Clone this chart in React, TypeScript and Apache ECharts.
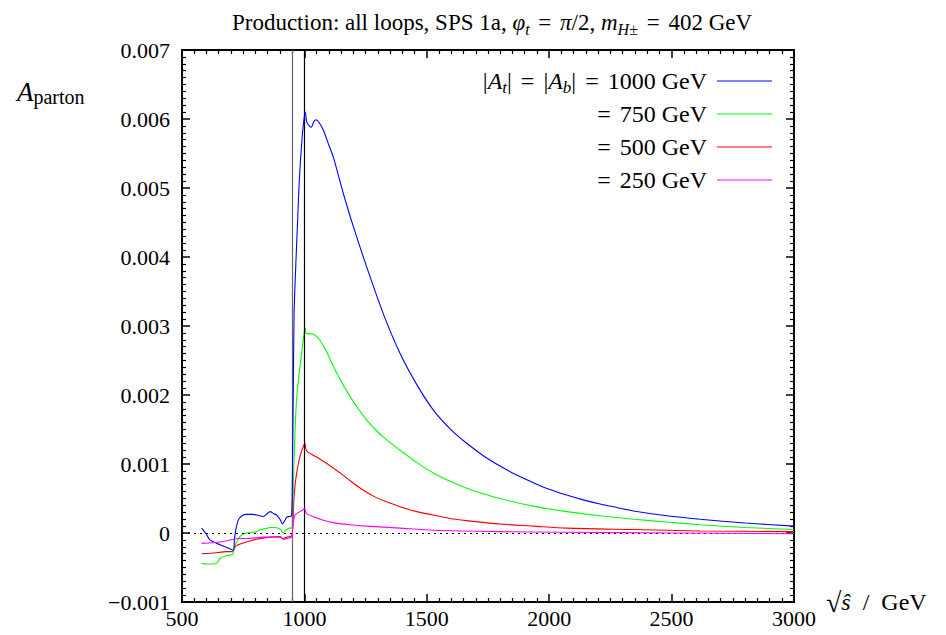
import React, { useEffect, useRef } from "react";
import * as echarts from "echarts";

// sqrt(s) in GeV, asymmetry in units of 1e-3
const blueX = [580, 600, 614, 655, 690, 710, 714, 720, 730, 745, 764, 790, 805, 832, 848, 860, 875, 887, 900, 911, 920, 928, 940, 948, 952, 955, 958, 965, 972, 979, 990, 1000, 1003, 1010, 1020, 1028, 1038, 1047, 1060, 1077, 1100, 1118, 1159, 1200, 1254, 1322, 1391, 1459, 1527, 1595, 1663, 1731, 1799, 1867, 1935, 2003, 2071, 2139, 2208, 2276, 2344, 2480, 2616, 2800, 3000];
const blueY = [0.07, -0.02, -0.10, -0.17, -0.22, -0.25, -0.10, 0.05, 0.19, 0.25, 0.27, 0.27, 0.26, 0.24, 0.28, 0.31, 0.28, 0.26, 0.20, 0.13, 0.18, 0.23, 0.24, 0.25, 1.2, 2.2, 3.2, 3.9, 4.5, 5.1, 5.7, 6.05, 6.1, 5.95, 5.9, 5.88, 5.96, 5.99, 5.95, 5.84, 5.62, 5.45, 4.92, 4.44, 3.86, 3.18, 2.60, 2.15, 1.78, 1.51, 1.30, 1.12, 0.97, 0.84, 0.73, 0.63, 0.55, 0.48, 0.42, 0.37, 0.32, 0.25, 0.20, 0.145, 0.10];

const greenX = [580, 600, 628, 645, 655, 680, 700, 708, 712, 718, 723, 735, 744, 764, 791, 805, 819, 840, 860, 880, 893, 905, 911, 918, 928, 940, 948, 952, 956, 962, 968, 975, 982, 992, 1000, 1002, 1008, 1020, 1036, 1050, 1064, 1090, 1118, 1150, 1186, 1220, 1254, 1290, 1322, 1391, 1459, 1527, 1595, 1663, 1731, 1799, 1935, 2071, 2208, 2344, 2480, 2616, 2800, 3000];
const greenY = [-0.44, -0.45, -0.45, -0.43, -0.37, -0.33, -0.32, -0.30, -0.22, -0.17, -0.13, -0.06, -0.03, 0.0, 0.01, 0.02, 0.05, 0.06, 0.08, 0.08, 0.07, 0.04, 0.0, 0.02, 0.05, 0.07, 0.07, 0.3, 0.9, 1.5, 1.93, 2.2, 2.41, 2.7, 2.93, 2.98, 2.89, 2.89, 2.88, 2.85, 2.79, 2.63, 2.42, 2.2, 1.98, 1.80, 1.64, 1.50, 1.39, 1.20, 1.02, 0.87, 0.75, 0.65, 0.57, 0.50, 0.39, 0.31, 0.25, 0.20, 0.16, 0.12, 0.08, 0.05];

const redX = [580, 628, 683, 700, 710, 714, 720, 737, 764, 805, 860, 900, 908, 914, 920, 928, 948, 953, 957, 962, 968, 975, 982, 992, 1000, 1002, 1006, 1012, 1040, 1064, 1090, 1118, 1150, 1186, 1220, 1254, 1290, 1322, 1391, 1459, 1527, 1595, 1663, 1799, 1935, 2071, 2344, 2616, 3000];
const redY = [-0.30, -0.29, -0.27, -0.27, -0.26, -0.22, -0.19, -0.16, -0.13, -0.09, -0.06, -0.05, -0.07, -0.09, -0.07, -0.06, -0.04, 0.15, 0.48, 0.70, 0.86, 1.0, 1.11, 1.22, 1.29, 1.30, 1.22, 1.18, 1.12, 1.07, 1.01, 0.94, 0.86, 0.76, 0.67, 0.59, 0.52, 0.47, 0.38, 0.31, 0.26, 0.21, 0.18, 0.13, 0.10, 0.07, 0.05, 0.03, 0.02];

const magentaX = [580, 655, 710, 730, 764, 832, 900, 914, 928, 948, 952, 957, 962, 972, 982, 992, 1002, 1006, 1012, 1036, 1064, 1118, 1186, 1254, 1391, 1527, 1800, 2071, 2500, 3000];
const magentaY = [-0.15, -0.13, -0.09, -0.08, -0.08, -0.06, -0.06, -0.09, -0.08, -0.06, 0.07, 0.20, 0.26, 0.29, 0.31, 0.33, 0.35, 0.30, 0.27, 0.24, 0.20, 0.15, 0.12, 0.10, 0.07, 0.04, 0.02, 0.01, 0.0, -0.01];

const thresholds = [952, 1000];
const legendLabels = ["1000 GeV", "750 GeV", "500 GeV", "250 GeV"];
const seriesColors = ["#0000ff", "#00ff00", "#ff0000", "#ff00ff"];

const FONT = "'Liberation Serif', 'DejaVu Serif', serif";

const zip = (xs: number[], ys: number[]) => xs.map((x, i) => [x, ys[i]]);

export default function App() {
  const ref = useRef<HTMLDivElement>(null);
  useEffect(() => {
    document.body.style.margin = "0";
    if (!ref.current) return;
    const chart = echarts.init(ref.current, null, { renderer: "svg" });
    const mk = (size: number) => ({
      n: { fontFamily: FONT, fontSize: size, fontWeight: "normal" as const, color: "#000", lineHeight: size + 6 },
      e: { fontFamily: FONT, fontSize: size, fontWeight: "normal" as const, color: "#000", lineHeight: size + 6, padding: [0, 3, 0, 3] },
      i: { fontFamily: FONT, fontSize: size, fontStyle: "italic" as const, fontWeight: "normal" as const, color: "#000", lineHeight: size + 6 },
      s: { fontFamily: FONT, fontSize: Math.round(size * 0.7), fontStyle: "italic" as const, fontWeight: "normal" as const, color: "#000", lineHeight: Math.round(size * 0.7), verticalAlign: "bottom" as const },
      su: { fontFamily: FONT, fontSize: Math.round(size * 0.7), fontWeight: "normal" as const, color: "#000", lineHeight: Math.round(size * 0.7), verticalAlign: "bottom" as const },
      r: { fontFamily: FONT, fontSize: size + 4, fontWeight: "normal" as const, color: "#000", lineHeight: size + 6 },
    });
    const richTitle = mk(23);
    const richLeg = mk(24);
    const tickCommon = {
      show: true,
      inside: true,
      length: 8,
      lineStyle: { color: "#000", width: 1.5 },
    };
    const minorCommon = { show: true, splitNumber: 10, length: 4, lineStyle: { color: "#000", width: 1.2 } };
    const lineBase = { type: "line" as const, showSymbol: false, symbol: "none", smooth: 0.25 };
    const legendY = [81, 114, 147, 180];
    const legendGraphics: any[] = [];
    legendY.forEach((y, k) => {
      legendGraphics.push({
        type: "text",
        x: 707,
        y,
        style: {
          text: k === 0
            ? `{n||}{i|A}{s|t}{n||}{e| = }{n||}{i|A}{s|b}{n||}{e| = }{n|${legendLabels[k]}}`
            : `{e|= }{n|${legendLabels[k]}}`,
          rich: richLeg,
          align: "right",
          verticalAlign: "middle",
        },
      });
      legendGraphics.push({
        type: "line",
        shape: { x1: 717, y1: y, x2: 772, y2: y },
        style: { stroke: seriesColors[k], lineWidth: 1.2 },
      });
    });
    const axisCommon = {
      axisLine: { show: true, onZero: false, lineStyle: { color: "#000", width: 2 } },
      axisTick: tickCommon,
      minorTick: minorCommon,
      splitLine: { show: false },
    };
    chart.setOption({
      animation: false,
      backgroundColor: "#fff",
      title: {
        text: "{n|Production: all loops, SPS 1a, }{i|φ}{s|t}{e| = }{i|π}{n|/2, }{i|m}{s|H}{su|±}{e| = }{n|402 GeV}",
        left: 487,
        top: 3,
        textAlign: "center",
        textStyle: { rich: richTitle, fontFamily: FONT, fontWeight: "normal" },
      },
      grid: { left: 182, right: 152, top: 50, bottom: 33 },
      xAxis: [
        {
          type: "value", min: 500, max: 3000, interval: 500, position: "bottom",
          ...axisCommon,
          axisLabel: { color: "#000", fontFamily: FONT, fontSize: 22, margin: 5, formatter: (v: number) => String(v) },
        },
        {
          type: "value", min: 500, max: 3000, interval: 500, position: "top",
          ...axisCommon,
          axisLabel: { show: false },
        },
      ],
      yAxis: [
        {
          type: "value", min: -1, max: 7, interval: 1, position: "left",
          ...axisCommon,
          axisLabel: {
            color: "#000",
            fontFamily: FONT,
            fontSize: 22,
            margin: 12,
            formatter: (v: number) => (v === 0 ? "0" : v < 0 ? "\u2212" + (-v / 1000).toFixed(3) : (v / 1000).toFixed(3)),
          },
        },
        {
          type: "value", min: -1, max: 7, interval: 1, position: "right",
          ...axisCommon,
          axisLabel: { show: false },
        },
      ],
      series: [
        {
          ...lineBase,
          name: "|At| = |Ab| = 1000 GeV",
          data: zip(blueX, blueY),
          lineStyle: { color: seriesColors[0], width: 1.1 },
          itemStyle: { color: seriesColors[0] },
          z: 5,
        },
        {
          ...lineBase,
          name: "= 750 GeV",
          data: zip(greenX, greenY),
          lineStyle: { color: seriesColors[1], width: 1.1 },
          itemStyle: { color: seriesColors[1] },
          z: 4,
        },
        {
          ...lineBase,
          name: "= 500 GeV",
          data: zip(redX, redY),
          lineStyle: { color: seriesColors[2], width: 1.1 },
          itemStyle: { color: seriesColors[2] },
          z: 3,
        },
        {
          ...lineBase,
          name: "= 250 GeV",
          data: zip(magentaX, magentaY),
          lineStyle: { color: seriesColors[3], width: 1.1 },
          itemStyle: { color: seriesColors[3] },
          z: 6,
        },
        {
          type: "line",
          data: [],
          z: 10,
          markLine: {
            silent: true,
            symbol: "none",
            label: { show: false },
            data: [
              { xAxis: thresholds[0], lineStyle: { color: "#666", width: 1.2, type: "solid" } },
              { xAxis: thresholds[1], lineStyle: { color: "#000", width: 1.2, type: "solid" } },
              { yAxis: 0, lineStyle: { color: "#000", width: 1, type: [2, 4] } },
            ],
          },
        },
      ],
      graphic: [
        {
          type: "text",
          x: 17,
          y: 92,
          style: {
            text: "{a|A}{p|parton}",
            verticalAlign: "middle",
            rich: {
              a: { fontFamily: FONT, fontSize: 27, fontStyle: "italic", color: "#000", lineHeight: 30 },
              p: { fontFamily: FONT, fontSize: 20, color: "#000", lineHeight: 16, verticalAlign: "bottom" },
            },
          },
        },
        {
          type: "text",
          x: 826,
          y: 602,
          style: {
            text: "{r|√}{i|ŝ}{n|  /  GeV}",
            verticalAlign: "middle",
            rich: richLeg,
          },
        },
        ...legendGraphics,
      ],
    });
    return () => chart.dispose();
  }, []);
  return <div ref={ref} style={{ width: 946, height: 635 }} />;
}
